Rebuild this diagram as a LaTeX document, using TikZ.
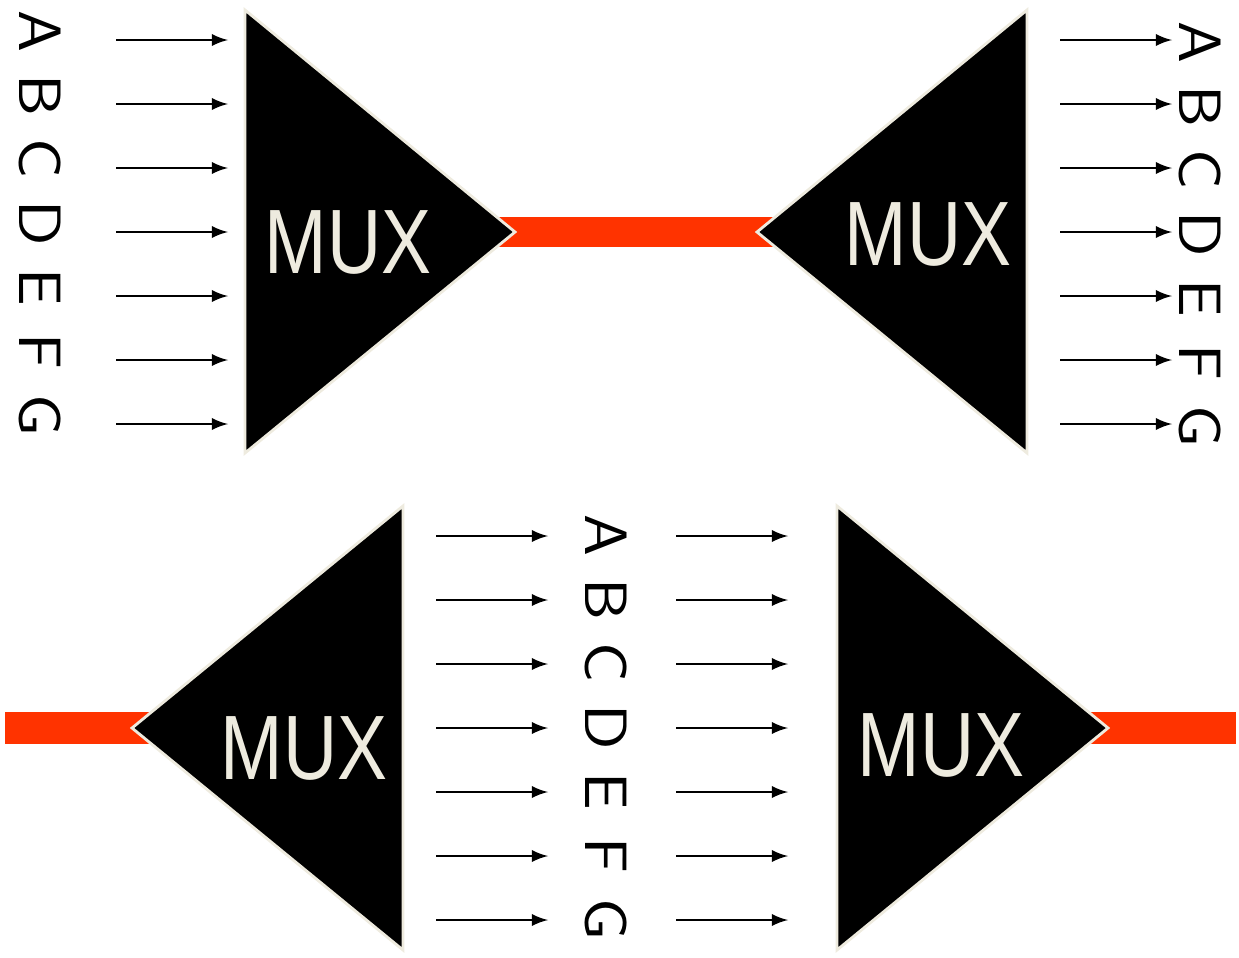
\documentclass[tikz,border=0pt]{standalone}
\usepackage{fontspec}
\newfontfamily\muxfont{Liberation Sans}
\usetikzlibrary{arrows}

\definecolor{muxred}{HTML}{FF3300}
\definecolor{cream}{HTML}{EEEBDF}

\tikzset{
  mux/.style={draw=cream, line width=0.8pt, fill=black},
  muxlabel/.style={text=cream, font=\muxfont\fontsize{26}{26}\selectfont, xscale=0.82, inner sep=0pt},
  link/.style={fill=muxred},
  signal/.style={line width=0.6pt, -latex},
  letter/.style={rotate=-90, xscale=1.12, font=\sffamily\fontsize{17}{17}\selectfont, inner sep=0pt}
}

\begin{document}
\begin{tikzpicture}[x=0.01cm, y=-0.01cm]
        \useasboundingbox (0,0) rectangle (1239,957);

        % red lines between the multiplexers
        \fill[link] (495,217) rectangle (775,247);
        \fill[link] (5,712) rectangle (150,744);
        \fill[link] (1090,712) rectangle (1236,744);

        % the four multiplexers
        \draw[mux] (245,10) -- (515,232) -- (245,453) -- cycle;
        \draw[mux] (1027,10) -- (757,232) -- (1027,453) -- cycle;
        \draw[mux] (403,506) -- (132,728) -- (403,950) -- cycle;
        \draw[mux] (837,506) -- (1108,728) -- (837,950) -- cycle;

        \node[muxlabel] (mux1) at (348,242) {MUX};
        \node[muxlabel] (mux2) at (928,234) {MUX};
        \node[muxlabel] (mux3) at (304,748) {MUX};
        \node[muxlabel] (mux4) at (941,745) {MUX};

        % channels A to G
        \foreach \l [count=\i from 0] in {A,B,C,D,E,F,G} {
            \node[letter] (inA\l) at (40,31+64*\i) {\l};
            \node[letter] (inB\l) at (1200,42+64*\i) {\l};
            \node[letter] (inC\l) at (606,535+64*\i) {\l};

            \coordinate (s1\l) at (116,40+64*\i);
            \coordinate (e1\l) at (228,40+64*\i);
            \coordinate (s2\l) at (1060,40+64*\i);
            \coordinate (e2\l) at (1172,40+64*\i);
            \coordinate (s3\l) at (436,536+64*\i);
            \coordinate (e3\l) at (548,536+64*\i);
            \coordinate (s4\l) at (676,536+64*\i);
            \coordinate (e4\l) at (788,536+64*\i);

            \draw[signal] (s1\l) -- (e1\l);
            \draw[signal] (s2\l) -- (e2\l);
            \draw[signal] (s3\l) -- (e3\l);
            \draw[signal] (s4\l) -- (e4\l);
        }
    \end{tikzpicture}
\end{document}
